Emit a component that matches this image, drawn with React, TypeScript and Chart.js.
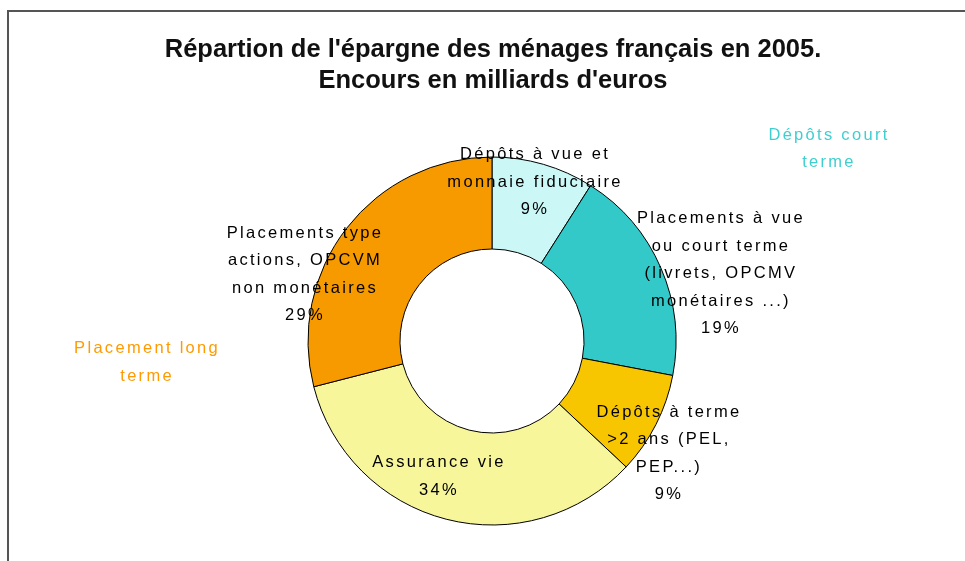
import React, { useEffect, useRef } from "react";
import { Chart, registerables } from "chart.js";

Chart.register(...registerables);

// ---- data ----
const titleLines = [
  "Répartion de l'épargne des ménages français en 2005.",
  "Encours en milliards d'euros",
];
const categories: string[][] = [
  ["Dépôts à vue et", "monnaie fiduciaire"],
  ["Placements à vue", "ou court terme", "(livrets, OPCMV", "monétaires ...)"],
  ["Dépôts à terme", ">2 ans (PEL,", "PEP...)"],
  ["Assurance vie"],
  ["Placements type", "actions, OPCVM", "non monétaires"],
];
const shares = [9, 19, 9, 34, 29];
const groupLabels: string[][] = [
  ["Dépôts court", "terme"],
  ["Placement long", "terme"],
];

// ---- styles / layout ----
const sliceColors = ["#CBF7F7", "#33C9C9", "#F8C600", "#F8F69B", "#F69A00"];
const groupColors = ["#3FCFCF", "#FF9A00"];
// label anchor in polar terms: radius factor of outer radius, angle shift (deg) from slice middle
const labelPlacement = [
  { rf: 0.894, shift: -1.4 },
  { rf: 1.292, shift: 6.9 },
  { rf: 1.135, shift: 5.6 },
  { rf: 0.793, shift: 7.3 },
  { rf: 1.084, shift: -18.3 },
];
// group labels offsets in units of outer radius from the ring centre
const groupPlacement = [
  { fx: 1.826, fy: -1.043 },
  { fx: -1.88, fy: 0.117 },
];

const LABEL_FONT = '16.5px "Liberation Sans", Arial, sans-serif';
const LINE_H = 27.5;

const labelPlugin = {
  id: "sliceLabels",
  afterDatasetsDraw(chart: any) {
    const ctx: CanvasRenderingContext2D = chart.ctx;
    const meta = chart.getDatasetMeta(0);
    const first = meta.data[0];
    const cx = first.x;
    const cy = first.y;
    const R = first.outerRadius;
    const total = shares.reduce((a, b) => a + b, 0);
    ctx.save();
    ctx.textAlign = "center";
    ctx.textBaseline = "middle";

    // title
    ctx.font = 'bold 25.5px "Liberation Sans", Arial, sans-serif';
    (ctx as any).letterSpacing = "0px";
    ctx.fillStyle = "#111";
    titleLines.forEach((t, k) => ctx.fillText(t, cx + 1, 38 + k * 31));

    ctx.font = LABEL_FONT;
    (ctx as any).letterSpacing = "2.3px";
    ctx.fillStyle = "#000";
    meta.data.forEach((arc: any, i: number) => {
      const p = labelPlacement[i];
      const mid = (arc.startAngle + arc.endAngle) / 2 + (p.shift * Math.PI) / 180;
      const r = R * p.rf;
      const x = cx + r * Math.cos(mid);
      const y = cy + r * Math.sin(mid);
      const pct = Math.round((shares[i] / total) * 100) + "%";
      const lines = [...categories[i], pct];
      lines.forEach((t, k) =>
        ctx.fillText(t, x + 1, y + (k - (lines.length - 1) / 2) * LINE_H)
      );
    });

    groupLabels.forEach((lines, g) => {
      const gp = groupPlacement[g];
      ctx.fillStyle = groupColors[g];
      const x = cx + gp.fx * R;
      const y = cy + gp.fy * R;
      lines.forEach((t, k) =>
        ctx.fillText(t, x + 1, y + (k - (lines.length - 1) / 2) * LINE_H)
      );
    });
    ctx.restore();
  },
};

export default function App() {
  const ref = useRef<HTMLCanvasElement>(null);
  useEffect(() => {
    document.body.style.overflow = "hidden";
    const canvas = ref.current!;
    const chart = new Chart(canvas, {
      type: "doughnut",
      data: {
        labels: categories.map((c) => c.join(" ")),
        datasets: [
          {
            data: shares,
            backgroundColor: sliceColors,
            borderColor: "#000",
            borderWidth: 1,
          },
        ],
      },
      options: {
        responsive: false,
        animation: false,
        radius: 184,
        cutout: "50%",
        layout: { padding: { left: 10, right: 0, top: 109, bottom: 0 } },
        plugins: {
          legend: { display: false },
          tooltip: { enabled: false },
          title: { display: false },
        },
      } as any,
      plugins: [labelPlugin],
    });
    return () => chart.destroy();
  }, []);

  return (
    <div
      style={{
        position: "absolute",
        left: 7,
        top: 10,
        width: 958,
        height: 551,
        boxSizing: "border-box",
        borderLeft: "2px solid #555",
        borderTop: "2px solid #555",
        background: "#fff",
        overflow: "hidden",
      }}
    >
      <canvas ref={ref} width={956} height={549} style={{ display: "block" }} />
    </div>
  );
}
